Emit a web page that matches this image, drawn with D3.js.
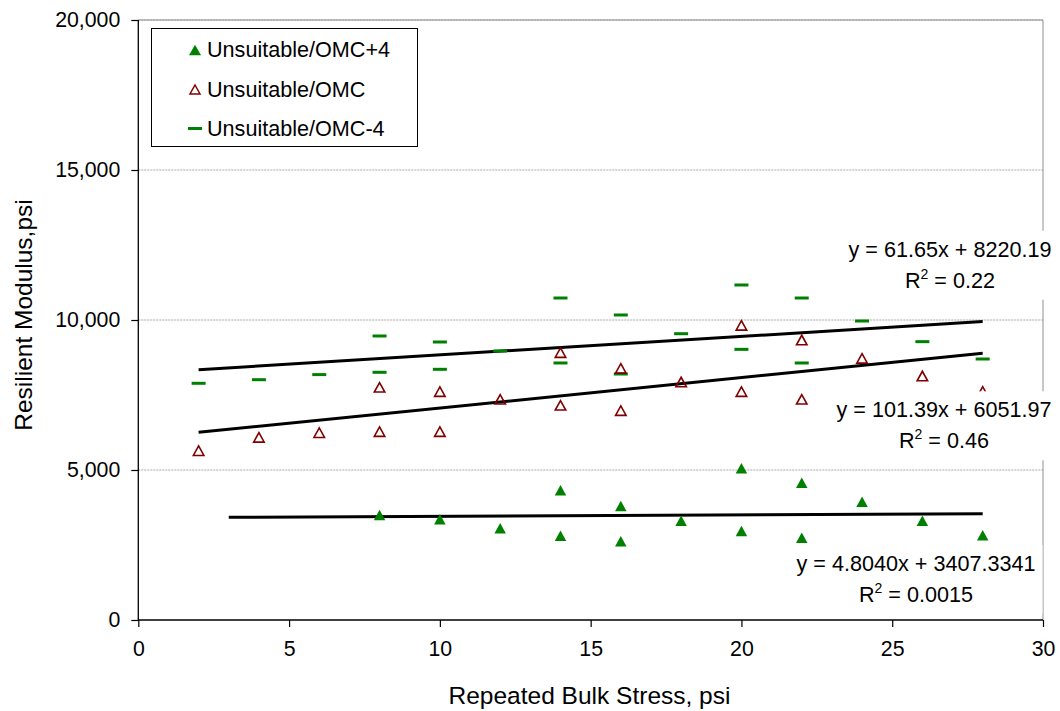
<!DOCTYPE html>
<html>
<head>
<meta charset="utf-8">
<script src="https://cdn.jsdelivr.net/npm/d3@7"></script>
<style>
  html, body { margin: 0; padding: 0; background: #fff; }
  svg text { font-family: "Liberation Sans", Arial, sans-serif; fill: #000; }
</style>
</head>
<body>
<svg id="chart" width="1060" height="711"></svg>
<script>
// Repeated bulk stress (psi) and resilient modulus (psi) per moisture condition
const stressOMCplus4 = [8, 10, 12, 14, 14, 16, 16, 18, 20, 20, 22, 22, 24, 26, 28];
const modulusOMCplus4 = [3500, 3356, 3056, 4322, 2811, 3800, 2622, 3311, 5056, 2967, 4578, 2744, 3944, 3311, 2822];

const stressOMC = [2, 4, 6, 8, 8, 10, 10, 12, 14, 14, 16, 16, 18, 20, 20, 22, 22, 24, 26, 28];
const modulusOMC = [5644, 6089, 6244, 6278, 7756, 6278, 7611, 7356, 7156, 8911, 6978, 8389, 7933, 9822, 7611, 9333, 7356, 8722, 8133, 7620];

const stressOMCminus4 = [2, 4, 6, 8, 8, 10, 10, 12, 14, 14, 16, 16, 18, 20, 20, 22, 22, 24, 26, 28];
const modulusOMCminus4 = [7890, 8010, 8180, 9467, 8257, 9267, 8356, 8967, 10733, 8567, 10167, 8200, 9543, 11167, 9022, 10733, 8567, 9967, 9278, 8700];

// Linear trendlines: y = slope * x + intercept
const seriesNames = ["Unsuitable/OMC+4", "Unsuitable/OMC", "Unsuitable/OMC-4"];
const trendSlopes = [4.8040, 101.39, 61.65];
const trendIntercepts = [3407.3341, 6051.97, 8220.19];
const trendSlopeText = ["4.8040", "101.39", "61.65"];
const trendInterceptText = ["3407.3341", "6051.97", "8220.19"];
const trendR2Text = ["0.0015", "0.46", "0.22"];
const trendFrom = [3, 2, 2];
const trendTo = [28, 28, 28];

const xTicks = [0, 5, 10, 15, 20, 25, 30];
const yTicks = [0, 5000, 10000, 15000, 20000];

const green = "#008000";
const darkRed = "#800000";

const svg = d3.select("#chart");
const plotLeft = 138.3, plotRight = 1043, plotTop = 20, plotBottom = 620;

const x = d3.scaleLinear().domain([0, 30]).range([plotLeft, plotRight]);
const y = d3.scaleLinear().domain([0, 20000]).range([plotBottom, plotTop]);

// horizontal gridlines
svg.append("g").selectAll("line").data(yTicks.filter(d => d > 0)).join("line")
  .attr("x1", plotLeft).attr("x2", plotRight)
  .attr("y1", d => y(d)).attr("y2", d => y(d))
  .attr("stroke", "#a8a8a8").attr("stroke-width", 1).attr("stroke-dasharray", "2,1");

// plot frame (top / right)
svg.append("line").attr("x1", plotLeft).attr("x2", plotRight).attr("y1", plotTop).attr("y2", plotTop)
  .attr("stroke", "#909090").attr("stroke-width", 1);
svg.append("line").attr("x1", plotRight).attr("x2", plotRight).attr("y1", plotTop).attr("y2", plotBottom)
  .attr("stroke", "#909090").attr("stroke-width", 1);

// axes
const xAxis = d3.axisBottom(x).tickValues(xTicks).tickSize(7).tickPadding(14).tickFormat(d3.format("d"));
const yAxis = d3.axisLeft(y).tickValues(yTicks).tickSize(7).tickPadding(11).tickFormat(d3.format(","));

const gx = svg.append("g").attr("transform", `translate(0,${plotBottom})`).call(xAxis);
const gy = svg.append("g").attr("transform", `translate(${plotLeft},0)`).call(yAxis);
[gx, gy].forEach(g => {
  g.select(".domain").attr("stroke", "#000").attr("stroke-width", 1.3);
  g.selectAll(".tick line").attr("stroke", "#000").attr("stroke-width", 1.2);
  g.selectAll(".tick text").attr("font-size", 21.3).attr("font-family", "Liberation Sans, Arial, sans-serif").attr("fill", "#000");
});
gx.select(".domain").attr("d", `M${plotLeft},0H${plotRight}`);
gy.select(".domain").attr("d", `M0,${plotTop}V${plotBottom}`);

// axis titles
svg.append("text").attr("x", 589.5).attr("y", 704).attr("text-anchor", "middle")
  .attr("font-size", 24.5).text("Repeated Bulk Stress, psi");
svg.append("text").attr("transform", "translate(31.5,315) rotate(-90)").attr("text-anchor", "middle")
  .attr("font-size", 24.5).text("Resilient Modulus,psi");

// marker shapes
const triPath = (w, h) => `M0,${-h / 2}L${w / 2},${h / 2}L${-w / 2},${h / 2}Z`;

// trendlines
const trendG = svg.append("g");
trendSlopes.forEach((m, i) => {
  const xs = [trendFrom[i], trendTo[i]];
  trendG.append("line")
    .attr("x1", x(xs[0])).attr("y1", y(m * xs[0] + trendIntercepts[i]))
    .attr("x2", x(xs[1])).attr("y2", y(m * xs[1] + trendIntercepts[i]))
    .attr("stroke", "#000").attr("stroke-width", 3);
});

// OMC-4 dashes
svg.append("g").selectAll("rect").data(stressOMCminus4.map((s, i) => [s, modulusOMCminus4[i]])).join("rect")
  .attr("x", d => x(d[0]) - 7).attr("y", d => y(d[1]) - 1.5)
  .attr("width", 14).attr("height", 3).attr("fill", green);

// OMC open triangles
svg.append("g").selectAll("path").data(stressOMC.map((s, i) => [s, modulusOMC[i]])).join("path")
  .attr("transform", d => `translate(${x(d[0])},${y(d[1])})`)
  .attr("d", triPath(10.5, 9.5)).attr("fill", "none").attr("stroke", darkRed).attr("stroke-width", 1.6);

// OMC+4 filled triangles
svg.append("g").selectAll("path").data(stressOMCplus4.map((s, i) => [s, modulusOMCplus4[i]])).join("path")
  .attr("transform", d => `translate(${x(d[0])},${y(d[1])})`)
  .attr("d", triPath(11.5, 10.5)).attr("fill", green);

// trendline equation labels (white boxes)
const labelPos = [
  { cx: 916, base: 571 },
  { cx: 944, base: 417.3 },
  { cx: 950, base: 256.7 }
];
labelPos.forEach((p, i) => {
  const g = svg.append("g");
  const bg = g.append("rect").attr("fill", "#fff");
  const t1 = g.append("text").attr("x", p.cx).attr("y", p.base).attr("text-anchor", "middle")
    .attr("font-size", 21.6).text(`y = ${trendSlopeText[i]}x + ${trendInterceptText[i]}`);
  const t2 = g.append("text").attr("x", p.cx).attr("y", p.base + 31).attr("text-anchor", "middle")
    .attr("font-size", 21.6);
  t2.append("tspan").text("R");
  t2.append("tspan").attr("dy", -9).attr("font-size", 14).text("2");
  t2.append("tspan").attr("dy", 9).text(` = ${trendR2Text[i]}`);
  const b = t1.node().getBBox();
  bg.attr("x", b.x - 7).attr("y", p.base - 26).attr("width", b.width + 14).attr("height", 69);
});

// legend
const legend = svg.append("g");
legend.append("rect").attr("x", 151.5).attr("y", 28.5).attr("width", 266).attr("height", 118)
  .attr("fill", "#fff").attr("stroke", "#000").attr("stroke-width", 1);
const rows = [49.5, 89, 128.5];
legend.append("path").attr("transform", `translate(195,${rows[0] + 0.5})`).attr("d", triPath(12, 10.5)).attr("fill", green);
legend.append("path").attr("transform", `translate(195,${rows[1] + 0.5})`).attr("d", triPath(10, 9)).attr("fill", "none")
  .attr("stroke", darkRed).attr("stroke-width", 1.5);
legend.append("rect").attr("x", 188).attr("y", rows[2] - 1.5).attr("width", 14).attr("height", 3).attr("fill", green);
seriesNames.forEach((n, i) => {
  legend.append("text").attr("x", 207).attr("y", rows[i] + 7.5).attr("font-size", 21.6).text(n);
});
</script>
</body>
</html>
